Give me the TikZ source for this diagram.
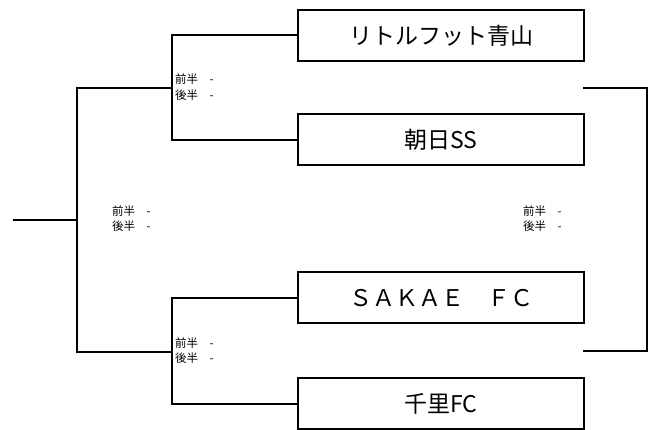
\documentclass[tikz,border=0pt]{standalone}
\usepackage{fontspec}
\newfontfamily\jp{Noto Sans CJK JP}
\begin{document}
\begin{tikzpicture}[x=1pt,y=-1pt,
  team/.style={draw,line width=2pt,minimum width=286pt,minimum height=51pt,inner sep=0pt,font=\jp\fontsize{23}{26}\selectfont},
  wire/.style={line width=2pt},
  score/.style={anchor=west,inner sep=0pt,font=\jp\fontsize{11.5}{13}\selectfont}]
\useasboundingbox (0,0) rectangle (657,430);
\node[team] (t1) at (441,35.5) {リトルフット青山};
\node[team] (t2) at (441,140) {朝日SS};
\node[team] (t3) at (441,298) {ＳＡＫＡＥ　ＦＣ};
\node[team] (t4) at (441,404) {千里FC};
\coordinate (a1) at (172,35.5);
\coordinate (a2) at (172,140);
\coordinate (am) at (172,88);
\coordinate (b1) at (172,298);
\coordinate (b2) at (172,404);
\coordinate (bm) at (172,352);
\coordinate (c1) at (77,88);
\coordinate (c2) at (77,352);
\coordinate (cm) at (77,220);
\coordinate (root) at (13,220);
\coordinate (r1) at (583,88);
\coordinate (r2) at (647,88);
\coordinate (r3) at (647,351);
\coordinate (r4) at (583,351);
\draw[wire] (t1.west) -- (a1) -- (a2) -- (t2.west);
\draw[wire] (t3.west) -- (b1) -- (b2) -- (t4.west);
\draw[wire] (am) -- (c1) -- (c2) -- (bm);
\draw[wire] (root) -- (cm);
\draw[wire] (r1) -- (r2) -- (r3) -- (r4);
\node[score] (s1a) at (175,79) {前半　-};
\node[score] (s1b) at (175,95) {後半　-};
\node[score] (s2a) at (112,211) {前半　-};
\node[score] (s2b) at (112,226) {後半　-};
\node[score] (s3a) at (175,343) {前半　-};
\node[score] (s3b) at (175,358) {後半　-};
\node[score] (s4a) at (523,211) {前半　-};
\node[score] (s4b) at (523,226) {後半　-};
\end{tikzpicture}
\end{document}
